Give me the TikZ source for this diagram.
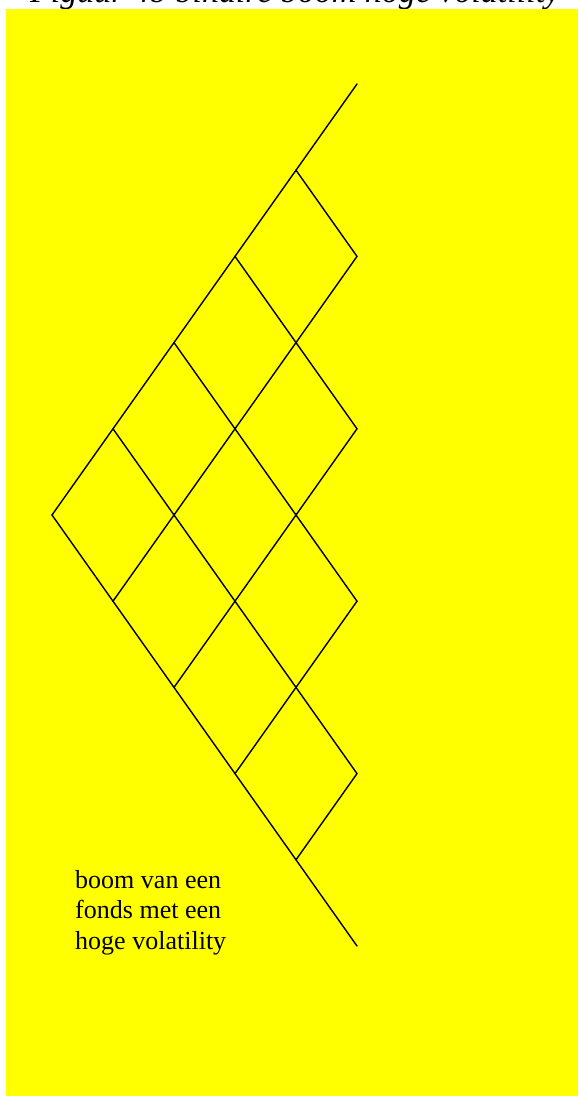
\documentclass[tikz,border=0pt]{standalone}
\usepackage{fontspec}
\setmainfont{Liberation Serif}
\usetikzlibrary{positioning}
\definecolor{canvas}{HTML}{FFFF00}
\definecolor{ink}{HTML}{000000}
\tikzset{branch/.style={draw=ink,line width=1.2pt,line cap=round},
 heading/.style={font=\fontsize{29}{32}\selectfont\itshape,text=ink,inner sep=0pt},
 caption/.style={font=\fontsize{22.2}{26}\selectfont,text=ink,align=left,inner sep=0pt}}

\begin{document}
\begin{tikzpicture}[x=0.03cm,y=-0.03cm]
\useasboundingbox (0,0) rectangle (578,1096);
\node[heading,anchor=base west] (title) at (30,3) {Figuur 4b binaire boom hoge volatility};
\fill[canvas] (6,9) rectangle (578,1096);
% lattice points
\foreach \i in {0,...,5}{
 \foreach \j in {0,...,\i}{
  \coordinate (n-\i-\j) at ({52+61*\i},{515-86.2*\i+172.4*\j});
 }
}
% up and down moves
\foreach \i in {0,...,4}{
 \pgfmathtruncatemacro{\k}{\i+1}
 \foreach \j in {0,...,\i}{
  \pgfmathtruncatemacro{\m}{\j+1}
  \draw[branch] (n-\i-\j)--(n-\k-\j);
  \draw[branch] (n-\i-\j)--(n-\k-\m);
 }
}
\node[caption,anchor=north west] (note) at (75,870) {boom van een\\fonds met een\\hoge volatility};
\end{tikzpicture}
\end{document}
